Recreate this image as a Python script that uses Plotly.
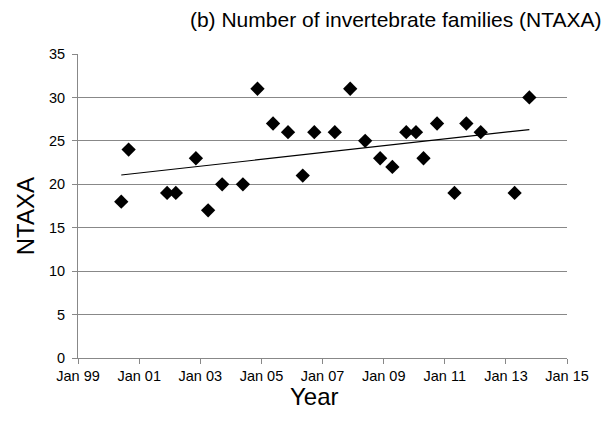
"""Number of invertebrate families (NTAXA) over time, with linear trend."""

import plotly.graph_objects as go

# sample dates and NTAXA values
dates = [
    "2000-06-01", "2000-08-28", "2001-12-01", "2002-03-15", "2002-11-10",
    "2003-04-05", "2003-09-20", "2004-05-25", "2004-11-15", "2005-05-20",
    "2005-11-15", "2006-05-10", "2006-09-25", "2007-05-28", "2007-11-28",
    "2008-05-25", "2008-11-20", "2009-04-15", "2009-09-28", "2010-01-22",
    "2010-04-22", "2010-10-01", "2011-04-27", "2011-09-16", "2012-03-06",
    "2013-04-15", "2013-10-08",
]
ntaxa = [
    18, 24, 19, 19, 23,
    17, 20, 20, 31, 27,
    26, 21, 26, 26, 31,
    25, 23, 22, 26, 26,
    23, 27, 19, 27, 26,
    19, 30,
]

# linear trend line end points
trend_dates = ["2000-06-01", "2013-10-08"]
trend_values = [21.07, 26.3]

x_ticks = ["1999-01-01", "2001-01-01", "2003-01-01", "2005-01-01", "2007-01-01",
           "2009-01-01", "2011-01-01", "2013-01-01", "2015-01-01"]
x_labels = ["Jan 99", "Jan 01", "Jan 03", "Jan 05", "Jan 07",
            "Jan 09", "Jan 11", "Jan 13", "Jan 15"]

FONT = "Liberation Sans, Arial, sans-serif"
GREY = "#888888"

fig = go.Figure()
fig.add_trace(go.Scatter(
    x=trend_dates, y=trend_values, mode="lines",
    line=dict(color="black", width=1.2), hoverinfo="skip",
))
fig.add_trace(go.Scatter(
    x=dates, y=ntaxa, mode="markers",
    marker=dict(symbol="diamond", size=11, color="black"),
))

# the page body adds an 8px margin, so the figure is drawn 8px smaller
fig.update_layout(
    width=603, height=418,
    margin=dict(l=70, r=44, t=46, b=68, autoexpand=False),
    paper_bgcolor="white", plot_bgcolor="white",
    showlegend=False,
    font=dict(family=FONT, color="black"),
    title=dict(text="(b) Number of invertebrate families (NTAXA)",
               font=dict(size=21, family=FONT, color="black"),
               x=0.643, xanchor="center", y=0.971, yanchor="middle"),
    xaxis=dict(
        range=["1999-01-01", "2015-01-01"], automargin=False,
        tickvals=x_ticks, ticktext=x_labels,
        tickfont=dict(size=14.5), showgrid=False, zeroline=False,
        showline=True, linecolor=GREY, linewidth=1,
        ticks="outside", ticklen=5, tickcolor=GREY,
    ),
    yaxis=dict(
        range=[0, 35], tickvals=list(range(0, 36, 5)), automargin=False,
        tickfont=dict(size=14.5), showgrid=True, gridcolor=GREY, gridwidth=1,
        zeroline=False, showline=True, linecolor=GREY, linewidth=1,
        ticks="outside", ticklen=5, tickcolor=GREY, ticklabelstandoff=4,
    ),
    annotations=[
        dict(text="Year", xref="paper", yref="paper", x=0.483, y=-0.128,
             xanchor="center", yanchor="middle", showarrow=False,
             font=dict(size=24)),
        dict(text="NTAXA", xref="paper", yref="paper", x=-0.108, y=0.467,
             xanchor="center", yanchor="middle", showarrow=False,
             textangle=-90, font=dict(size=24)),
    ],
)

fig.write_html("out.html")
